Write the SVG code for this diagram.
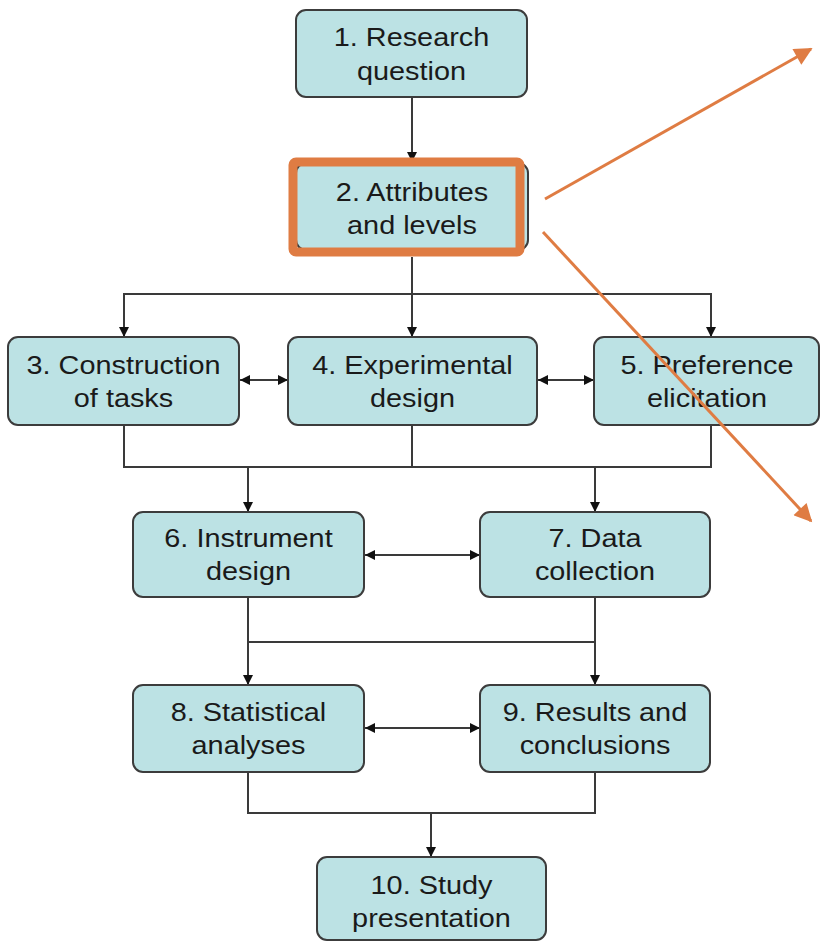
<svg xmlns="http://www.w3.org/2000/svg" width="821" height="942" viewBox="0 0 821 942">
<defs>
<style>
.box{fill:#bce2e4;stroke:#3c3c3c;stroke-width:2}
.lbl{font-family:"Liberation Sans",Arial,sans-serif;font-size:26px;fill:#1a1a1a;text-anchor:middle}
.con{fill:none;stroke:#3a3a3a;stroke-width:2}
.hl{fill:none;stroke:#df7c43;stroke-width:3}
</style>
<marker id="ah" viewBox="0 0 10 10" refX="10" refY="5" markerWidth="10" markerHeight="10" markerUnits="userSpaceOnUse" orient="auto-start-reverse"><path d="M0,0 L10,5 L0,10 z" fill="#111"/></marker>
<marker id="oh" viewBox="0 0 10 10" refX="9" refY="5" markerWidth="20" markerHeight="18" markerUnits="userSpaceOnUse" orient="auto"><path d="M0,0 L10,5 L0,10 z" fill="#df7c43"/></marker>
</defs>
<rect width="821" height="942" fill="#fff"/>
<g id="connectors">
<path class="con" d="M412,97 V162" marker-end="url(#ah)"/>
<path class="con" d="M412,257 V337" marker-end="url(#ah)"/>
<path class="con" d="M124,337 V294 H711 V337" />
<path class="con" d="M124,294 V337" marker-end="url(#ah)"/>
<path class="con" d="M711,294 V337" marker-end="url(#ah)"/>
<path class="con" d="M240,380 H288" marker-start="url(#ah)" marker-end="url(#ah)"/>
<path class="con" d="M538,380 H594" marker-start="url(#ah)" marker-end="url(#ah)"/>
<path class="con" d="M124,425 V467 H711 V425 M412,425 V467"/>
<path class="con" d="M248,467 V512" marker-end="url(#ah)"/>
<path class="con" d="M595,467 V512" marker-end="url(#ah)"/>
<path class="con" d="M365,555 H480" marker-start="url(#ah)" marker-end="url(#ah)"/>
<path class="con" d="M248,642 H595"/>
<path class="con" d="M248,597 V685" marker-end="url(#ah)"/>
<path class="con" d="M595,597 V685" marker-end="url(#ah)"/>
<path class="con" d="M365,728 H480" marker-start="url(#ah)" marker-end="url(#ah)"/>
<path class="con" d="M248,772 V813 H595 V772"/>
<path class="con" d="M431,813 V857" marker-end="url(#ah)"/>
</g>
<g id="n1"><rect class="box" x="296" y="10" width="231" height="87" rx="10"/>
<g transform="translate(411.5,0) scale(1.11,1)"><text class="lbl" x="0" y="46">1. Research</text><text class="lbl" x="0" y="80">question</text></g></g>
<g id="n2"><rect class="box" x="296" y="163" width="232" height="87" rx="10"/>
<g transform="translate(412,0) scale(1.11,1)"><text class="lbl" x="0" y="201">2. Attributes</text><text class="lbl" x="0" y="234">and levels</text></g></g>
<g id="n3"><rect class="box" x="8" y="337" width="231" height="88" rx="10"/>
<g transform="translate(123.5,0) scale(1.11,1)"><text class="lbl" x="0" y="374">3. Construction</text><text class="lbl" x="0" y="407">of tasks</text></g></g>
<g id="n4"><rect class="box" x="288" y="337" width="249" height="88" rx="10"/>
<g transform="translate(412.5,0) scale(1.11,1)"><text class="lbl" x="0" y="374">4. Experimental</text><text class="lbl" x="0" y="407">design</text></g></g>
<g id="n5"><rect class="box" x="594" y="337" width="225" height="88" rx="10"/>
<g transform="translate(707,0) scale(1.11,1)"><text class="lbl" x="0" y="374">5. Preference</text><text class="lbl" x="0" y="407">elicitation</text></g></g>
<g id="n6"><rect class="box" x="133" y="512" width="231" height="85" rx="10"/>
<g transform="translate(248.5,0) scale(1.11,1)"><text class="lbl" x="0" y="547">6. Instrument</text><text class="lbl" x="0" y="580">design</text></g></g>
<g id="n7"><rect class="box" x="480" y="512" width="230" height="85" rx="10"/>
<g transform="translate(595,0) scale(1.11,1)"><text class="lbl" x="0" y="547">7. Data</text><text class="lbl" x="0" y="580">collection</text></g></g>
<g id="n8"><rect class="box" x="133" y="685" width="231" height="87" rx="10"/>
<g transform="translate(248.5,0) scale(1.11,1)"><text class="lbl" x="0" y="721">8. Statistical</text><text class="lbl" x="0" y="754">analyses</text></g></g>
<g id="n9"><rect class="box" x="480" y="685" width="230" height="87" rx="10"/>
<g transform="translate(595,0) scale(1.11,1)"><text class="lbl" x="0" y="721">9. Results and</text><text class="lbl" x="0" y="754">conclusions</text></g></g>
<g id="n10"><rect class="box" x="317" y="857" width="229" height="83" rx="10"/>
<g transform="translate(431.5,0) scale(1.11,1)"><text class="lbl" x="0" y="894">10. Study</text><text class="lbl" x="0" y="927">presentation</text></g></g>
<g id="highlight">
<rect x="293" y="162" width="227" height="90" rx="3" fill="none" stroke="#df7c43" stroke-width="9"/>
<line class="hl" x1="545" y1="199" x2="811" y2="49" marker-end="url(#oh)"/>
<line class="hl" x1="543" y1="232" x2="811" y2="521" marker-end="url(#oh)"/>
</g>
</svg>
